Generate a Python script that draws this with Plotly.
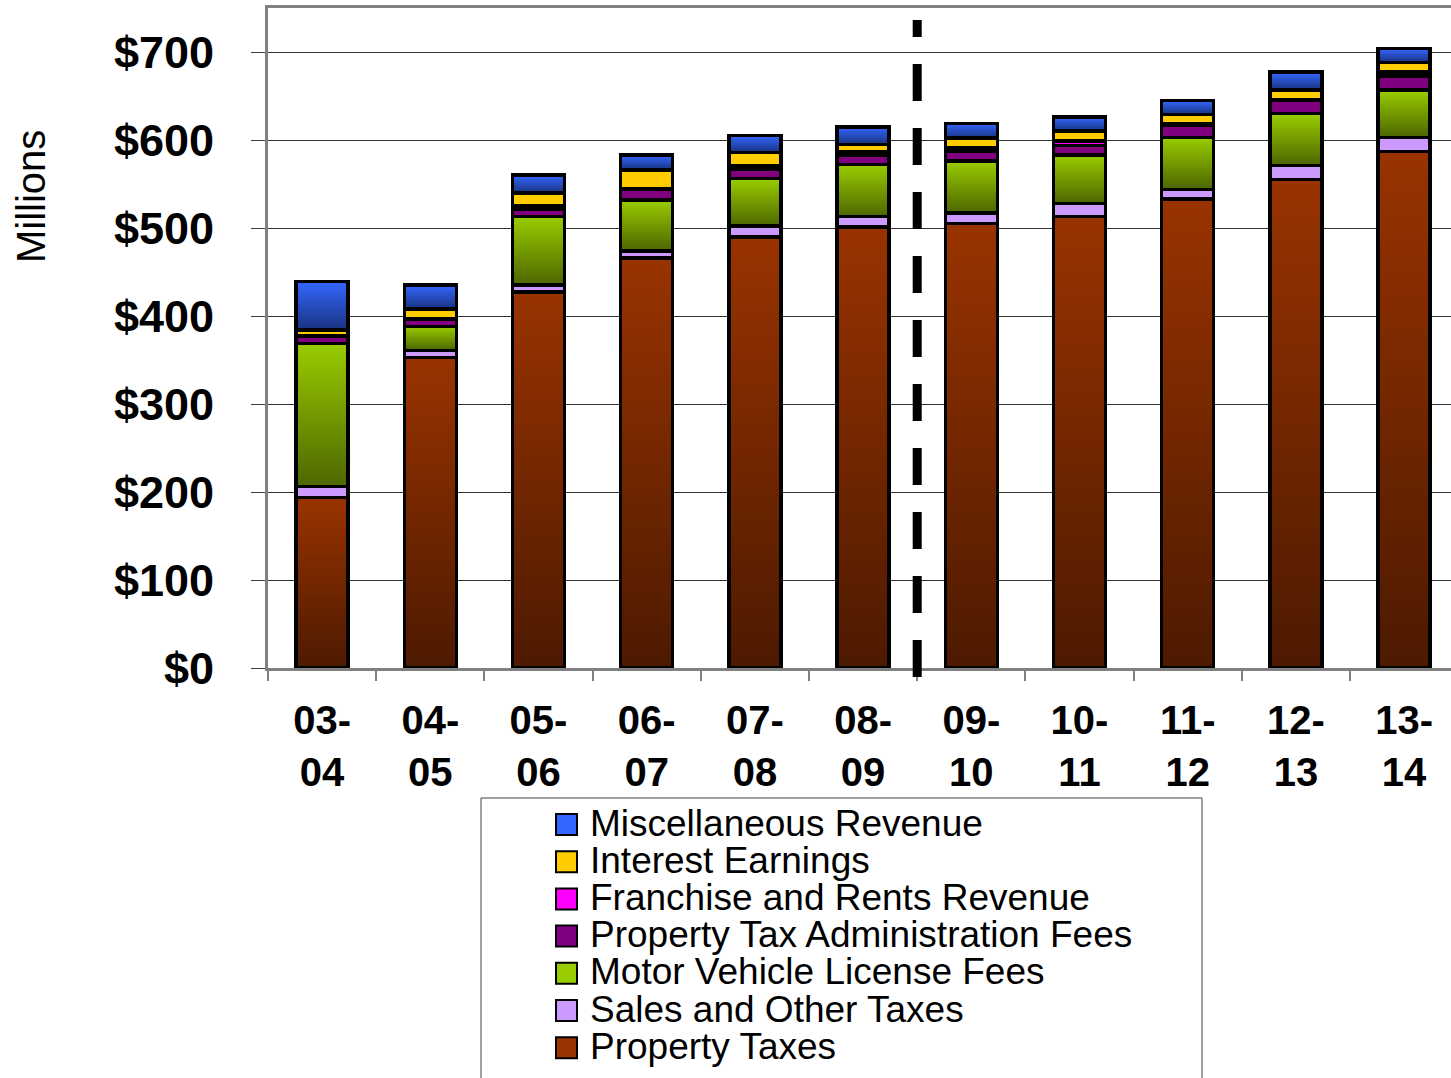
import base64
import plotly.graph_objects as go

# ---------------- data ----------------
categories = ["03-04", "04-05", "05-06", "06-07", "07-08", "08-09",
              "09-10", "10-11", "11-12", "12-13", "13-14"]
tick_text = ["03-<br>04", "04-<br>05", "05-<br>06", "06-<br>07", "07-<br>08", "08-<br>09",
             "09-<br>10", "10-<br>11", "11-<br>12", "12-<br>13", "13-<br>14"]

property_taxes = [194, 353, 427, 466, 490, 501, 505, 513, 533, 555, 587]
sales_other = [12, 8, 8, 8, 12, 12, 12, 15, 11, 16, 16]
motor_vehicle = [163, 27, 78, 58, 54, 59, 59, 55, 59, 59, 54]
prop_tax_admin = [8, 8, 8, 12, 11, 11, 11, 11, 14, 15, 16]
franchise_rents = [1, 1, 4, 1, 4, 4, 4, 5, 2, 1, 4]
interest = [6, 11, 15, 21, 15, 8, 11, 11, 10, 11, 11]
misc_revenue = [55, 27, 20, 17, 19, 20, 17, 16, 16, 20, 16]

y_tick_vals = [0, 100, 200, 300, 400, 500, 600, 700]
y_tick_text = ["$0", "$100", "$200", "$300", "$400", "$500", "$600", "$700"]

# bottom-to-top stacking order
series = [
    ("Property Taxes", property_taxes, "#993300", True),
    ("Sales and Other Taxes", sales_other, "#CC99FF", False),
    ("Motor Vehicle License Fees", motor_vehicle, "#99CC00", True),
    ("Property Tax Administration Fees", prop_tax_admin, "#800080", False),
    ("Franchise and Rents Revenue", franchise_rents, "#FF00FF", False),
    ("Interest Earnings", interest, "#FFCC00", False),
    ("Miscellaneous Revenue", misc_revenue, "#3366FF", True),
]

# forecast divider sits between 08-09 and 09-10
divider_after = "08-09"

# ---------------- layout constants ----------------
W, H = 1451, 1078
ML, MR, MT, MB = 268, 0, 8, 410
PW, PH = W - ML - MR, H - MT - MB
BAR_W = 0.48
FONT = "Liberation Sans, Arial, sans-serif"

def px_x(px):
    return (px - ML) / PW

def px_y(py):
    return (H - MB - py) / PH

grad_svg = ("<svg xmlns='http://www.w3.org/2000/svg' width='10' height='100' viewBox='0 0 10 100' "
            "preserveAspectRatio='none'><defs><linearGradient id='g' x1='0' y1='0' x2='0' y2='1'>"
            "<stop offset='0' stop-color='#000' stop-opacity='0'/>"
            "<stop offset='1' stop-color='#000' stop-opacity='0.5'/></linearGradient></defs>"
            "<rect width='10' height='100' fill='url(#g)'/></svg>")
GRAD = "data:image/svg+xml;base64," + base64.b64encode(grad_svg.encode()).decode()

fig = go.Figure()
images = []
base = [0] * len(categories)
for name, vals, color, gradient in series:
    fig.add_trace(go.Bar(
        x=categories, y=vals, name=name, width=BAR_W,
        marker=dict(color=color, line=dict(color="black", width=3.5)),
        showlegend=False,
    ))
    if gradient:
        for i, v in enumerate(vals):
            images.append(dict(source=GRAD, xref="x", yref="y",
                               x=i - BAR_W / 2, y=base[i] + v, sizex=BAR_W, sizey=v,
                               sizing="stretch", xanchor="left", yanchor="top",
                               layer="above"))
    base = [b + v for b, v in zip(base, vals)]

shapes = []
div_idx = categories.index(divider_after) + 0.5
shapes.append(dict(type="line", xref="x", yref="paper", x0=div_idx, x1=div_idx,
                   y0=px_y(677), y1=px_y(20),
                   line=dict(color="black", width=9, dash="37px,27px"), layer="above"))

# legend box (manual, to match the tight spacing of the original)
shapes.append(dict(type="rect", xref="paper", yref="paper",
                   x0=px_x(481), x1=px_x(1202), y0=px_y(798), y1=px_y(1100),
                   line=dict(color="#404040", width=1), fillcolor="rgba(0,0,0,0)"))
annotations = []
for k, (name, vals, color, gradient) in enumerate(reversed(series)):
    cy = 823 + 37.2 * k
    shapes.append(dict(type="rect", xref="paper", yref="paper",
                       x0=px_x(556), x1=px_x(577), y0=px_y(cy + 12), y1=px_y(cy - 9),
                       fillcolor=color, line=dict(color="black", width=2)))
    if gradient:
        images.append(dict(source=GRAD, xref="paper", yref="paper",
                           x=px_x(557), y=px_y(cy - 8), sizex=px_x(576) - px_x(557),
                           sizey=px_y(cy - 8) - px_y(cy + 11), sizing="stretch",
                           xanchor="left", yanchor="top", layer="above"))
    annotations.append(dict(text=name, xref="paper", yref="paper", x=px_x(588), y=px_y(cy),
                            xanchor="left", yanchor="middle", showarrow=False,
                            font=dict(family=FONT, size=37, color="black")))

annotations.append(dict(text="Millions", xref="paper", yref="paper", x=px_x(31), y=px_y(196),
                        textangle=-90, showarrow=False, xanchor="center", yanchor="middle",
                        font=dict(family=FONT, size=40, color="black")))

fig.update_layout(
    width=W, height=H, autosize=False,
    margin=dict(l=ML, r=MR, t=MT, b=MB, pad=0),
    barmode="stack",
    plot_bgcolor="white", paper_bgcolor="white",
    font=dict(family=FONT, color="black"),
    showlegend=False,
    shapes=shapes, annotations=annotations, images=images,
    xaxis=dict(type="category", categoryorder="array", categoryarray=categories,
               range=[-0.5, -0.5 + PW / 108.2],
               tickmode="array", tickvals=categories,
               ticktext=["<b>" + t + "</b>" for t in tick_text],
               tickfont=dict(family=FONT, size=40, color="black"),
               tickson="boundaries", ticks="outside", ticklen=10, tickwidth=1.5,
               tickcolor="#808080", ticklabelstandoff=15,
               showline=True, linecolor="#808080", linewidth=2.5, mirror=True,
               showgrid=False, zeroline=False, fixedrange=True),
    yaxis=dict(range=[0, 750], tickmode="array", tickvals=y_tick_vals,
               ticktext=["<b>" + t + "</b>" for t in y_tick_text],
               tickfont=dict(family=FONT, size=45, color="black"),
               ticks="outside", ticklen=14, tickwidth=1, tickcolor="#404040",
               ticklabelstandoff=28,
               showline=True, linecolor="#808080", linewidth=3,
               showgrid=True, gridcolor="#333333", gridwidth=1,
               zeroline=False, fixedrange=True),
)

fig.write_html("out.html", config={"displayModeBar": False},
               post_script="document.body.style.margin='0';")
